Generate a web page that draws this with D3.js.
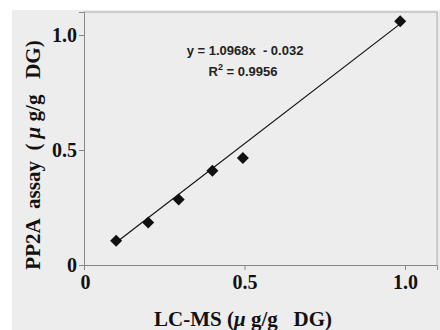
<!DOCTYPE html>
<html>
<head>
<meta charset="utf-8">
<script src="https://cdn.jsdelivr.net/npm/d3@7"></script>
<style>
  body { margin: 0; background: #fff; }
  svg { display: block; }
  text { white-space: pre; }
</style>
</head>
<body>
<div id="chart"></div>
<script>
// LC-MS vs PP2A assay (ug/g DG)
const lcms = [0.10, 0.20, 0.295, 0.40, 0.495, 0.985];
const pp2a = [0.105, 0.185, 0.285, 0.41, 0.465, 1.06];
const xTicks = [0, 0.5, 1.0];
const yTicks = [0, 0.5, 1.0];
const tickLabels = ["0", "0.5", "1.0"];
const slope = 1.0968, intercept = -0.032;
const eqText = "y = 1.0968x  - 0.032";
const r2Value = "= 0.9956";

const W = 440, H = 330;
const svg = d3.select("#chart").append("svg")
    .attr("width", W).attr("height", H);

// grey panel
svg.append("rect").attr("x", 12).attr("y", 10)
    .attr("width", W - 12).attr("height", H - 10)
    .attr("fill", "#ededed");

const x = d3.scaleLinear().domain([0, 1.1]).range([84, 84 + 321 * 1.1]);
const y = d3.scaleLinear().domain([0, 1.1]).range([265, 265 - 230 * 1.1]);

// frame (top + right)
svg.append("path")
    .attr("d", `M${x(0)},${y(1.1)}H${x(1.1)}V${y(0)}`)
    .attr("fill", "none").attr("stroke", "#aaa").attr("stroke-width", 1);

const serif = "'Liberation Serif', 'Times New Roman', serif";

const xAxis = svg.append("g")
    .attr("transform", `translate(0,${y(0)})`)
    .call(d3.axisBottom(x).tickValues(xTicks).tickSize(5).tickPadding(5)
        .tickFormat((d, i) => tickLabels[i]));
const yAxis = svg.append("g")
    .attr("transform", `translate(${x(0)},0)`)
    .call(d3.axisLeft(y).tickValues(yTicks).tickSize(5).tickPadding(2)
        .tickFormat((d, i) => tickLabels[i]));

[xAxis, yAxis].forEach(g => {
    g.select(".domain").attr("stroke", "#888");
    g.selectAll(".tick line").attr("stroke", "#888");
    g.selectAll("text")
        .attr("font-family", serif)
        .attr("font-weight", "bold")
        .attr("font-size", 20)
        .attr("fill", "#111");
});
xAxis.select(".tick text").attr("dx", 1);

// regression line
const x1 = lcms[0], x2 = lcms[lcms.length - 1];
svg.append("line")
    .attr("x1", x(x1)).attr("y1", y(slope * x1 + intercept + 0.02))
    .attr("x2", x(x2)).attr("y2", y(slope * x2 + intercept))
    .attr("stroke", "#111").attr("stroke-width", 1.2);

// points
svg.append("g").selectAll("path")
    .data(lcms)
    .join("path")
    .attr("d", d3.symbol(d3.symbolSquare, 72))
    .attr("transform", (d, i) => `translate(${x(d)},${y(pp2a[i])}) rotate(45)`)
    .attr("fill", "#111");

// equation
const sans = "'Liberation Sans', Arial, sans-serif";
svg.append("text")
    .attr("x", 245).attr("y", 55)
    .attr("text-anchor", "middle")
    .attr("font-family", sans).attr("font-size", 13).attr("font-weight", "bold")
    .attr("fill", "#222")
    .text(eqText);
const r2 = svg.append("text")
    .attr("x", 243).attr("y", 76)
    .attr("text-anchor", "middle")
    .attr("font-family", sans).attr("font-size", 13).attr("font-weight", "bold")
    .attr("fill", "#222");
r2.append("tspan").text("R");
r2.append("tspan").attr("dy", -6).attr("font-size", 9).text("2");
r2.append("tspan").attr("dy", 6).text(" " + r2Value);

// axis titles
function title(sel, size, before, after) {
    sel.attr("text-anchor", "middle")
        .attr("font-family", serif).attr("font-weight", "bold").attr("font-size", size)
        .attr("fill", "#111");
    sel.append("tspan").text(before);
    sel.append("tspan").attr("font-style", "italic").text("\u03bc");
    sel.append("tspan").text(after);
}
title(svg.append("text").attr("x", 243).attr("y", 326), 21, "LC-MS (", " g/g   DG)");
title(svg.append("text").attr("transform", "translate(40,155) rotate(-90)"), 21,
    "PP2A  assay  ( ", " g/g   DG)");
</script>
</body>
</html>
